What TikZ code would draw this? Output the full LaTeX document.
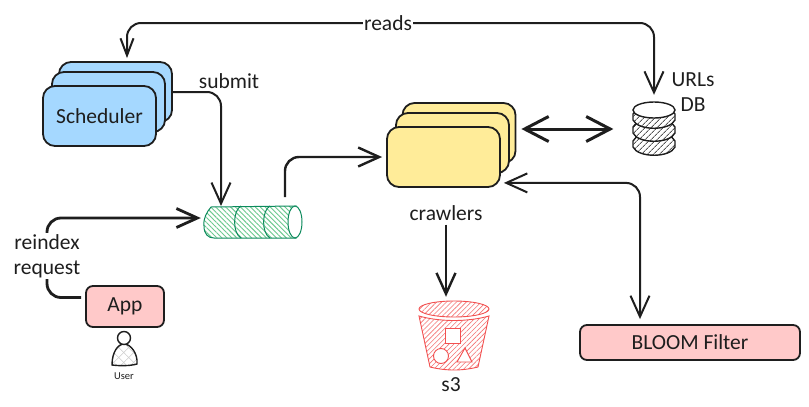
\documentclass[tikz,border=0pt]{standalone}
\usepackage{fontspec}
\setmainfont{Carlito}
\usetikzlibrary{positioning, arrows.meta, patterns.meta}
\definecolor{ink}{HTML}{1E1E1E}
\definecolor{skyfill}{HTML}{A5D8FF}
\definecolor{sandfill}{HTML}{FFEC99}
\definecolor{rosefill}{HTML}{FFC9C9}
\definecolor{queuegreen}{HTML}{0C8A5C}
\definecolor{queuehatch}{HTML}{6CC98F}
\definecolor{bucketred}{HTML}{F25050}
\tikzset{
	>={Straight Barb[length=21pt,width=19pt]},
	stackbox/.style={draw=ink, line width=1.8pt, rounded corners=12pt, minimum width=113pt, minimum height=60pt, inner sep=0pt},
	flatbox/.style={draw=ink, line width=1.8pt, fill=rosefill, rounded corners=7pt, inner sep=0pt},
	flow/.style={draw=ink, line width=2pt, rounded corners=14pt},
	heavyflow/.style={flow, line width=2.8pt},
	label/.style={font=\fontsize{21.5}{25}\selectfont, text=ink, inner sep=1pt},
	anchorbox/.style={inner sep=0pt},
	queuebody/.style={draw=queuegreen, line width=1pt, preaction={fill=white}, pattern={Lines[angle=-45,distance=3.5pt,line width=.9pt]}, pattern color=queuehatch},
	bandbody/.style={draw=ink, line width=1.4pt, preaction={fill=white}, pattern={Lines[angle=45,distance=4pt,line width=1pt]}, pattern color=ink!75},
	bucketbody/.style={draw=bucketred, line width=.9pt, preaction={fill=white}, pattern={Lines[angle=45,distance=3.5pt,line width=.6pt]}, pattern color=bucketred!80},
	bucketmark/.style={draw=bucketred, line width=.9pt, fill=white}
}
\begin{document}
\begin{tikzpicture}[x=1pt,y=-1pt]
	\useasboundingbox (0,0) rectangle (809,407);

	% scheduler stack
	\node[stackbox, fill=skyfill] (schedback) at (115.5,92) {};
	\node[stackbox, fill=skyfill] (schedmid) at (108.5,102) {};
	\node[stackbox, fill=skyfill, label] (scheduler) at (99.5,116) {Scheduler};

	% crawlers stack
	\node[stackbox, fill=sandfill] (crawlback) at (459,133) {};
	\node[stackbox, fill=sandfill] (crawlmid) at (452.5,143) {};
	\node[stackbox, fill=sandfill] (crawlfront) at (443.5,157) {};

	\node[flatbox, label, minimum width=78pt, minimum height=41pt] (app) at (125,306.5) {App};
	\node[flatbox, label, minimum width=220pt, minimum height=35pt] (bloom) at (690,342.5) {BLOOM Filter};

	% queue
	\node[anchorbox, minimum width=98pt, minimum height=32pt] (queue) at (253,222) {};
	\draw[queuebody] (296,206) -- (211,207) .. controls (207,212) and (203,218) .. (204,226)
		.. controls (204,234) and (208,238) .. (214,238) -- (296,238) -- cycle;
	\draw[queuegreen, line width=1pt] (241,206) .. controls (233,210) and (232,233) .. (241,238);
	\draw[queuegreen, line width=1pt] (270,206) .. controls (262,210) and (261,233) .. (270,238);
	\draw[queuegreen, line width=1pt, fill=white] (295,222) ellipse [x radius=7, y radius=16];

	% urls db
	\node[anchorbox, minimum width=42pt, minimum height=54pt] (urlsdb) at (654,128) {};
	\foreach \y in {141,127,114}
		\draw[bandbody] (633,\y) -- ++(0,6) .. controls +(5,11) and +(-5,11) .. ++(42,0)
			-- ++(0,-6) .. controls +(-5,-11) and +(5,-11) .. ++(-42,0) -- cycle;
	\draw[ink, line width=1.4pt, fill=white] (654,110) ellipse [x radius=21, y radius=8];
	\node[label, align=center] (urlslabel) at (693,92) {URLs\\DB};

	% bucket
	\node[anchorbox, minimum width=70pt, minimum height=70pt] (bucket) at (454,335) {};
	\draw[bucketbody] (419,316) .. controls (440,322) and (468,322) .. (489,316)
		-- (478,367) .. controls (462,371) and (446,371) .. (430,367) -- cycle;
	\draw[bucketbody] (454,309) ellipse [x radius=35, y radius=8];
	\draw[bucketmark] (445,328) rectangle (460,343);
	\draw[bucketmark] (441,356) circle [radius=7.5];
	\draw[bucketmark] (457,362) -- (465,348) -- (472,362) -- cycle;
	\node[label] (s3label) at (451,385) {s3};

	% user
	\draw[ink, line width=1.4pt, preaction={fill=white},
		preaction={pattern={Lines[angle=-45,distance=7pt,line width=.5pt]}, pattern color=black!20},
		pattern={Lines[angle=45,distance=7pt,line width=.5pt]}, pattern color=black!20]
		(112,365) .. controls (112,352) and (118,344) .. (124,344) .. controls (131,344) and (138,354) .. (137,364)
		.. controls (130,366) and (120,366) .. (112,365) -- cycle;
	\node[circle, draw=ink, line width=1.4pt, fill=white, minimum size=13pt, inner sep=0pt] (userhead) at (124,338) {};
	\node[font=\fontsize{10.5}{12}\selectfont, text=ink, inner sep=0pt] (userlabel) at (124,376) {User};

	% connectors
	\coordinate (readstop) at (388,23);
	\coordinate (reindexstop) at (47,256);
	\draw[flow, {Straight Barb[length=17pt,width=13pt]}->, shorten <=3pt, shorten >=6pt]
		([xshift=11.5pt]schedback.north) |- (readstop) -| (urlsdb.north);
	\node[label, fill=white] (readslabel) at (readstop) {reads};

	\draw[flow, ->] (schedback.east |- 0,92) -- (221,92) -- (221,206);
	\node[label] (submitlabel) at (229,81) {submit};

	\draw[heavyflow, ->] (app.west) ++(-4,-9) -| (reindexstop) |- ([xshift=-3pt,yshift=4pt]queue.west);
	\node[label, fill=white, align=center] (reindexlabel) at (reindexstop) {reindex\\request};

	\draw[flow, ->, line width=2.4pt] (285,197) |- ([xshift=-4pt]crawlfront.west);

	\draw[flow, line width=3pt, {Straight Barb[length=24pt,width=25pt]}-{Straight Barb[length=24pt,width=25pt]}]
		(crawlback.east |- urlsdb.center) ++(5,1) -- ++(92,0);
	\node[label] (crawlerslabel) at (446,213) {crawlers};
	\draw[flow, ->, line width=2.4pt] (crawlerslabel.south) ++(0,3) -- ([xshift=-8pt,yshift=3pt]bucket.north);
	\draw[flow, <->] ([xshift=-50pt,yshift=5pt]bloom.north) |- ([xshift=3pt,yshift=5pt]crawlfront.south east);
\end{tikzpicture}
\end{document}
